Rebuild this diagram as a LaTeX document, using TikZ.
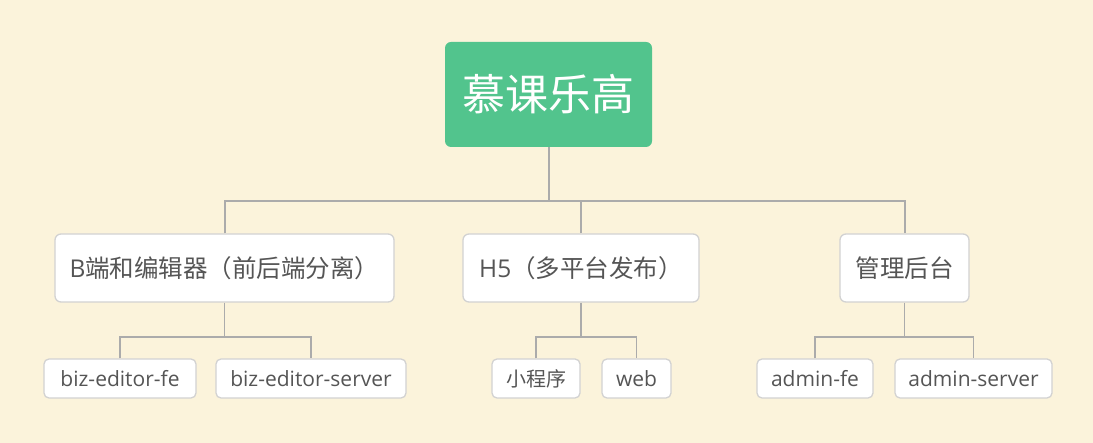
\documentclass[tikz,border=0pt]{standalone}
\usepackage{fontspec}
\setmainfont{Open Sans}
\newfontfamily\cjk{Noto Sans CJK SC}
\definecolor{bgc}{HTML}{FBF3DB}
\definecolor{rootc}{HTML}{52C48D}
\definecolor{linec}{HTML}{ABABAB}
\definecolor{borderc}{HTML}{D2D2D2}
\definecolor{txtc}{HTML}{555555}
\begin{document}
\begin{tikzpicture}[x=1pt,y=-1pt,
  rootbox/.style={fill=rootc, draw=none, rounded corners=6pt, inner sep=0pt,
    minimum width=207pt, minimum height=105pt, text=white,
    font=\cjk\fontsize{43}{50}\selectfont},
  lvone/.style={fill=white, draw=borderc, line width=1.3pt, rounded corners=6pt, inner sep=0pt,
    minimum height=68pt, text=txtc, font=\fontsize{24.5}{29}\selectfont},
  lvtwo/.style={fill=white, draw=borderc, line width=1.3pt, rounded corners=5pt, inner sep=0pt,
    minimum height=39pt, text=txtc, font=\fontsize{21}{25}\selectfont},
  conn/.style={draw=linec, line width=2pt},
  connsmall/.style={draw=linec, line width=1.5pt}
]
\fill[bgc] (0,0) rectangle (1093,443);
\useasboundingbox (0,0) rectangle (1093,443);

\node[rootbox] (root) at (548.5,94.5) {慕课乐高};

\node[lvone, minimum width=339pt] (b1) at (224.5,268) {B{\cjk 端和编辑器（前后端分离）}};
\node[lvone, minimum width=236pt] (b2) at (581,268) {H5{\cjk （多平台发布）}};
\node[lvone, minimum width=129pt] (b3) at (904.5,268) {{\cjk 管理后台}};

\node[lvtwo, minimum width=152pt] (c1) at (120,378.5) {biz-editor-fe};
\node[lvtwo, minimum width=190pt] (c2) at (311,378.5) {biz-editor-server};
\node[lvtwo, minimum width=88pt] (c3) at (536,378.5) {{\cjk\fontsize{20}{24}\selectfont 小程序}};
\node[lvtwo, minimum width=69pt] (c4) at (636.5,378.5) {web};
\node[lvtwo, minimum width=116pt] (c5) at (815,378.5) {admin-fe};
\node[lvtwo, minimum width=157pt] (c6) at (973.5,378.5) {admin-server};

\coordinate (j0) at (548.5,201);
\coordinate (j1) at (224.5,337);
\coordinate (j2) at (581,337);
\coordinate (j3) at (904.5,337);

\draw[conn] (root.south) -- (j0);
\draw[conn] (b1.north) |- (j0) -| (b3.north);
\draw[conn] (b2.north) -- (b2.north |- j0);

\draw[connsmall] (b1.south) -- (j1);
\draw[connsmall] (c1.north) |- (j1) -| (c2.north);
\draw[connsmall] (b2.south) -- (j2);
\draw[connsmall] (c3.north) |- (j2) -| (c4.north);
\draw[connsmall] (b3.south) -- (j3);
\draw[connsmall] (c5.north) |- (j3) -| (c6.north);
\end{tikzpicture}
\end{document}
